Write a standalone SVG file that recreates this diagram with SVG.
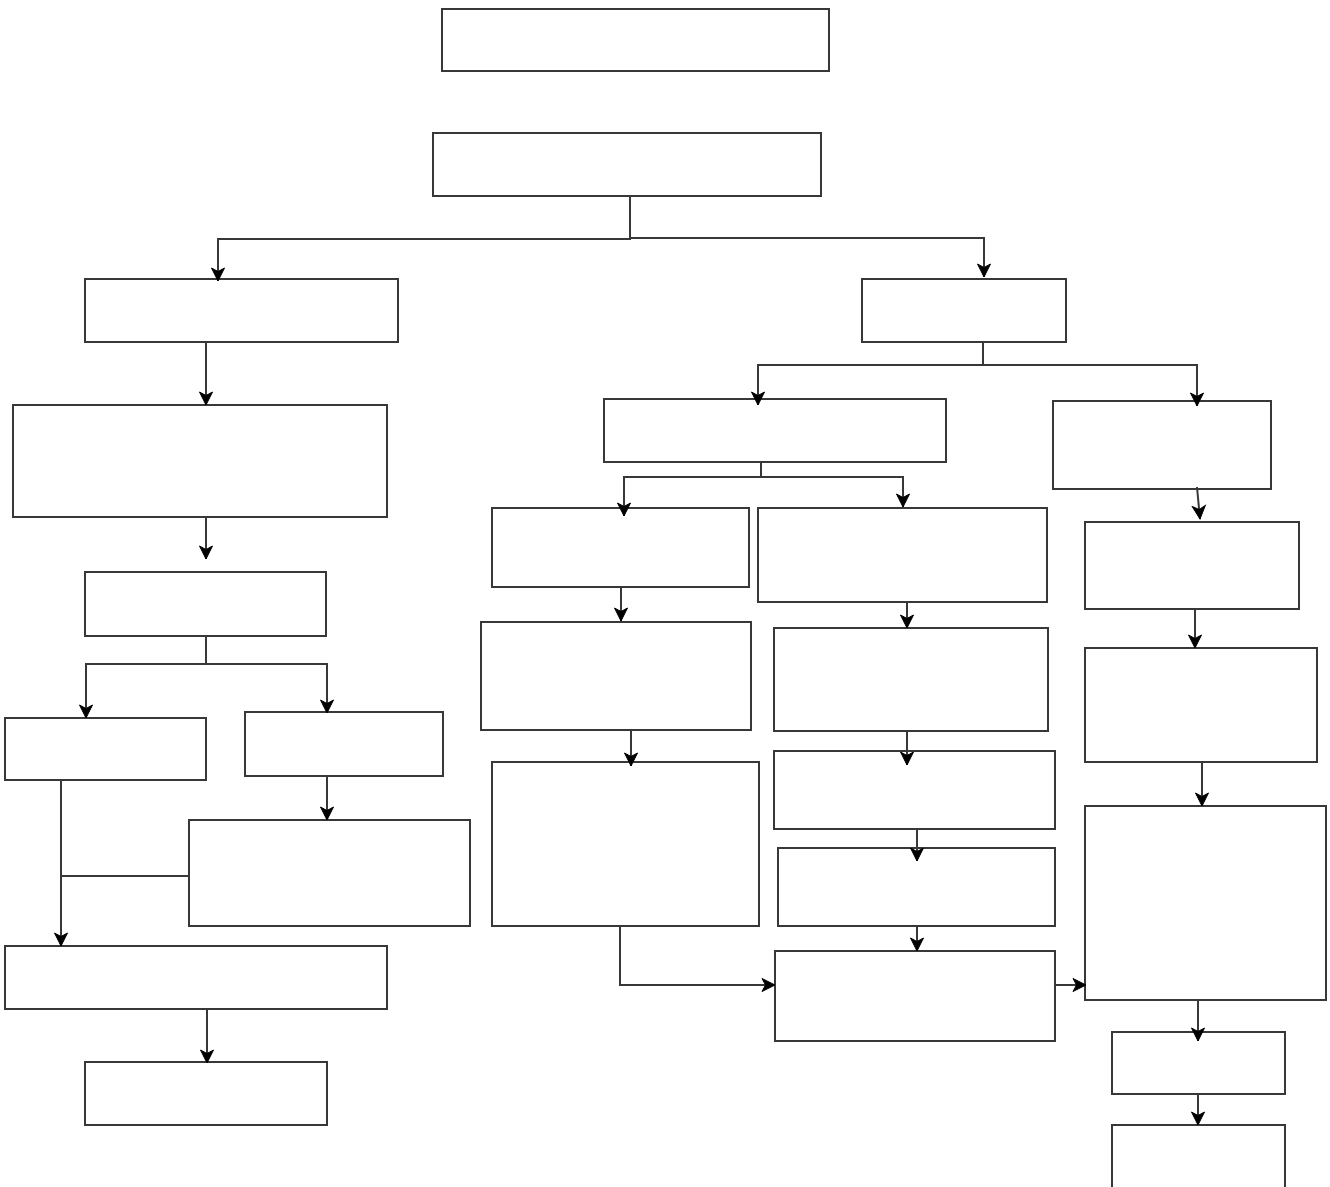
<svg xmlns="http://www.w3.org/2000/svg" width="1330" height="1187" viewBox="0 0 1330 1187">
<defs>
<style>
.box{fill:#fff;stroke:#383838;stroke-width:2}
.con{fill:none;stroke:#383838;stroke-width:2}
</style>
<marker id="ah" markerUnits="userSpaceOnUse" markerWidth="16" markerHeight="16" viewBox="0 0 16 16" refX="14" refY="8" orient="auto">
<path d="M1,1.5 L14,8 L1,14.5 L4.5,8 z" fill="#000" stroke="#000" stroke-width="1" stroke-linejoin="miter"/>
</marker>
</defs>
<rect width="1330" height="1187" fill="#fff"/>
<g id="nodes">
<g id="n-a"><rect class="box" x="442" y="9" width="387" height="62"/></g>
<g id="n-b"><rect class="box" x="433" y="133" width="388" height="63"/></g>
<g id="n-c"><rect class="box" x="85" y="279" width="313" height="63"/></g>
<g id="n-d"><rect class="box" x="13" y="405" width="374" height="112"/></g>
<g id="n-e"><rect class="box" x="85" y="572" width="241" height="64"/></g>
<g id="n-f"><rect class="box" x="5" y="718" width="201" height="62"/></g>
<g id="n-g"><rect class="box" x="245" y="712" width="198" height="64"/></g>
<g id="n-h"><rect class="box" x="189" y="820" width="281" height="106"/></g>
<g id="n-i"><rect class="box" x="5" y="946" width="382" height="63"/></g>
<g id="n-j"><rect class="box" x="85" y="1062" width="242" height="63"/></g>
<g id="n-k"><rect class="box" x="862" y="279" width="204" height="63"/></g>
<g id="n-l"><rect class="box" x="604" y="399" width="342" height="63"/></g>
<g id="n-o"><rect class="box" x="1053" y="401" width="218" height="88"/></g>
<g id="n-m"><rect class="box" x="492" y="508" width="257" height="79"/></g>
<g id="n-n"><rect class="box" x="758" y="508" width="289" height="94"/></g>
<g id="n-p"><rect class="box" x="1085" y="522" width="214" height="87"/></g>
<g id="n-s"><rect class="box" x="481" y="622" width="270" height="108"/></g>
<g id="n-u"><rect class="box" x="774" y="628" width="274" height="103"/></g>
<g id="n-q"><rect class="box" x="1085" y="648" width="232" height="114"/></g>
<g id="n-t"><rect class="box" x="492" y="762" width="267" height="164"/></g>
<g id="n-w"><rect class="box" x="774" y="751" width="281" height="78"/></g>
<g id="n-r"><rect class="box" x="1085" y="806" width="241" height="194"/></g>
<g id="n-x"><rect class="box" x="778" y="848" width="277" height="78"/></g>
<g id="n-v"><rect class="box" x="775" y="951" width="280" height="90"/></g>
<g id="n-y"><rect class="box" x="1112" y="1032" width="173" height="62"/></g>
<g id="n-z"><rect class="box" x="1112" y="1125" width="173" height="70"/></g>
</g>
<g id="connectors">
<path class="con" d="M630,196 V239 H218 V281" marker-end="url(#ah)"/>
<path class="con" d="M630,238 H984 V277" marker-end="url(#ah)"/>
<path class="con" d="M206,342 V405" marker-end="url(#ah)"/>
<path class="con" d="M206,517 V559" marker-end="url(#ah)"/>
<path class="con" d="M206,636 V664 H86 V718" marker-end="url(#ah)"/>
<path class="con" d="M206,664 H327 V713" marker-end="url(#ah)"/>
<path class="con" d="M327,776 V820" marker-end="url(#ah)"/>
<path class="con" d="M61,780 V946" marker-end="url(#ah)"/>
<path class="con" d="M189,876 H61"/>
<path class="con" d="M207,1009 V1063" marker-end="url(#ah)"/>
<path class="con" d="M983,342 V365 H758 V405" marker-end="url(#ah)"/>
<path class="con" d="M983,365 H1197 V406" marker-end="url(#ah)"/>
<path class="con" d="M761,462 V477 H624 V516" marker-end="url(#ah)"/>
<path class="con" d="M761,477 H903 V507" marker-end="url(#ah)"/>
<path class="con" d="M621,587 V621" marker-end="url(#ah)"/>
<path class="con" d="M631,730 V766" marker-end="url(#ah)"/>
<path class="con" d="M620,926 V985 H775" marker-end="url(#ah)"/>
<path class="con" d="M907,602 V628" marker-end="url(#ah)"/>
<path class="con" d="M907,731 V765" marker-end="url(#ah)"/>
<path class="con" d="M917,829 V861" marker-end="url(#ah)"/>
<path class="con" d="M917,926 V951" marker-end="url(#ah)"/>
<path class="con" d="M1055,985 H1086" marker-end="url(#ah)"/>
<path class="con" d="M1197,487 L1200,519" marker-end="url(#ah)"/>
<path class="con" d="M1195,609 V648" marker-end="url(#ah)"/>
<path class="con" d="M1202,762 V806" marker-end="url(#ah)"/>
<path class="con" d="M1198,1000 V1041" marker-end="url(#ah)"/>
<path class="con" d="M1198,1094 V1125" marker-end="url(#ah)"/>
</g>
</svg>
